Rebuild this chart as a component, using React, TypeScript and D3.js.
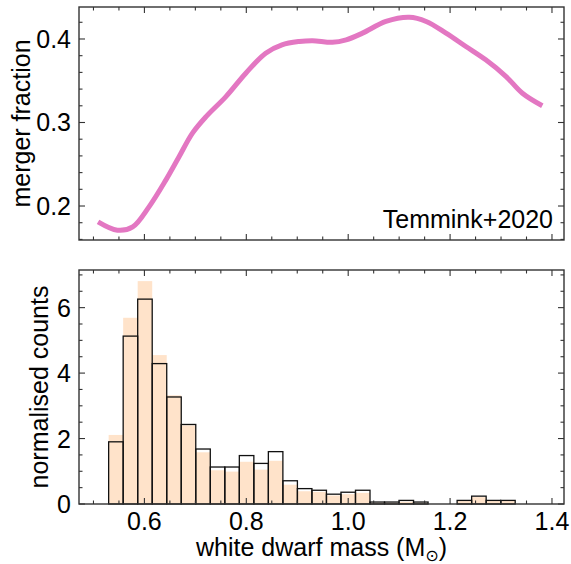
import React from "react";
import * as d3 from "d3";

// ---- data ----
const mergerMass = [0.509, 0.547, 0.577, 0.609, 0.642, 0.668, 0.694, 0.721, 0.76, 0.799, 0.838, 0.87, 0.904, 0.93, 0.969, 0.996, 1.028, 1.074, 1.12, 1.153, 1.192, 1.231, 1.27, 1.31, 1.342, 1.381];
const mergerFrac = [0.181, 0.171, 0.175, 0.199, 0.231, 0.259, 0.287, 0.307, 0.331, 0.359, 0.383, 0.393, 0.397, 0.398, 0.396, 0.399, 0.407, 0.421, 0.426, 0.421, 0.407, 0.391, 0.375, 0.355, 0.335, 0.32];

const binStart = 0.5298;
const binWidth = 0.0285;
const outlineCounts = [1.9, 5.13, 6.26, 4.29, 3.27, 2.43, 1.68, 1.13, 1.13, 1.48, 1.24, 1.6, 0.71, 0.47, 0.42, 0.3, 0.36, 0.42, 0.06, 0.06, 0.11, 0.06, 0, 0, 0.11, 0.24, 0.11, 0.11];
const filledCounts = [2.11, 5.69, 6.81, 4.55, 3.32, 2.4, 1.58, 1.03, 0.99, 1.29, 1.05, 1.32, 0.59, 0.39, 0.37, 0.26, 0.3, 0.34, 0.04, 0.04, 0.07, 0.04, 0, 0, 0.09, 0.21, 0.09, 0.09];

const xMajor = [0.6, 0.8, 1.0, 1.2, 1.4];
const topYMajor = [0.2, 0.3, 0.4];
const botYMajor = [0, 2, 4, 6];

const label = "Temmink+2020";

// ---- layout ----
const W = 571, H = 564;
const L = 79, R = 564;
const topP = { t: 7, b: 240 };
const botP = { t: 270, b: 504 };
const FONT = "'Liberation Sans', Arial, Helvetica, sans-serif";
const FS = 25;
const AX = "#333";

const x = d3.scaleLinear().domain([0.4716, 1.4236]).range([L, R]);
const yTop = d3.scaleLinear().domain([0.1593, 0.4383]).range([topP.b, topP.t]);
const yBot = d3.scaleLinear().domain([0, 7.15]).range([botP.b, botP.t]);

function range(a: number, b: number, s: number) {
  const out: number[] = [];
  for (let v = a; v <= b + 1e-9; v += s) out.push(Math.round(v * 1000) / 1000);
  return out;
}

function isMajor(v: number, step: number) {
  const r = v / step;
  return Math.abs(r - Math.round(r)) < 1e-6;
}

function Frame({ y, t, b, yMinorStep, yMajorStep }: any) {
  const xs = range(0.5, 1.4, 0.05).filter((v) => v >= x.domain()[0] && v <= x.domain()[1]);
  const [y0, y1] = y.domain();
  const ys = range(Math.ceil(y0 / yMinorStep) * yMinorStep, y1, yMinorStep);
  const maj = 6, mn = 3.5;
  return (
    <g stroke={AX} strokeWidth={1.1}>
      {xs.map((v, i) => {
        const len = isMajor(v, 0.2) ? maj : mn;
        return (
          <g key={"x" + i}>
            <line x1={x(v)} x2={x(v)} y1={b} y2={b - len} />
            <line x1={x(v)} x2={x(v)} y1={t} y2={t + len} />
          </g>
        );
      })}
      {ys.map((v, i) => {
        const len = isMajor(v, yMajorStep) ? maj : mn;
        return (
          <g key={"y" + i}>
            <line x1={L} x2={L + len} y1={y(v)} y2={y(v)} />
            <line x1={R} x2={R - len} y1={y(v)} y2={y(v)} />
          </g>
        );
      })}
      <rect x={L} y={t} width={R - L} height={b - t} fill="none" strokeWidth={1.4} />
    </g>
  );
}

export default function App() {
  const line = d3
    .line<number>()
    .x((_, i) => x(mergerMass[i]))
    .y((d) => yTop(d))
    .curve(d3.curveCatmullRom.alpha(0.5));

  const edges = outlineCounts.map((_, i) => binStart + i * binWidth);

  return (
    <svg width={W} height={H} style={{ position: "absolute", left: 0, top: 0, background: "#fff" }} fontFamily={FONT}>
      {/* top panel */}
      <path d={line(mergerFrac) || ""} fill="none" stroke="#e377c2" strokeWidth={5} />
      <Frame y={yTop} t={topP.t} b={topP.b} yMinorStep={0.02} yMajorStep={0.1} />
      {topYMajor.map((v) => (
        <text key={v} x={71} y={yTop(v)} dy="0.36em" textAnchor="end" fontSize={FS} fill="#000">
          {v.toFixed(1)}
        </text>
      ))}
      <text transform={`translate(29.5,${(topP.t + topP.b) / 2}) rotate(-90)`} textAnchor="middle" fontSize={FS} fill="#000">
        merger fraction
      </text>
      <text x={553} y={227.5} textAnchor="end" fontSize={FS} fill="#000">
        {label}
      </text>

      {/* bottom panel */}
      {filledCounts.map((c, i) =>
        c > 0 ? (
          <rect key={"f" + i} x={x(edges[i])} width={x(edges[i] + binWidth) - x(edges[i])} y={yBot(c)} height={yBot(0) - yBot(c)} fill="#ffe3ca" />
        ) : null
      )}
      {outlineCounts.map((c, i) =>
        c > 0 ? (
          <rect key={"o" + i} x={x(edges[i])} width={x(edges[i] + binWidth) - x(edges[i])} y={yBot(c)} height={yBot(0) - yBot(c)} fill="none" stroke="#111" strokeWidth={1.3} />
        ) : null
      )}
      <Frame y={yBot} t={botP.t} b={botP.b} yMinorStep={0.5} yMajorStep={2} />
      {botYMajor.map((v) => (
        <text key={v} x={71} y={yBot(v)} dy="0.36em" textAnchor="end" fontSize={FS} fill="#000">
          {v}
        </text>
      ))}
      {xMajor.map((v) => (
        <text key={v} x={x(v)} y={530} textAnchor="middle" fontSize={FS} fill="#000">
          {v.toFixed(1)}
        </text>
      ))}
      <text transform={`translate(48,${(botP.t + botP.b) / 2}) rotate(-90)`} textAnchor="middle" fontSize={FS} fill="#000">
        normalised counts
      </text>
      <text x={(L + R) / 2} y={556} textAnchor="middle" fontSize={FS} fill="#000">
        white dwarf mass (M
        <tspan fontSize={16} dy={5} fontFamily="'DejaVu Sans', sans-serif">⊙</tspan>
        <tspan dy={-5}>)</tspan>
      </text>
    </svg>
  );
}
